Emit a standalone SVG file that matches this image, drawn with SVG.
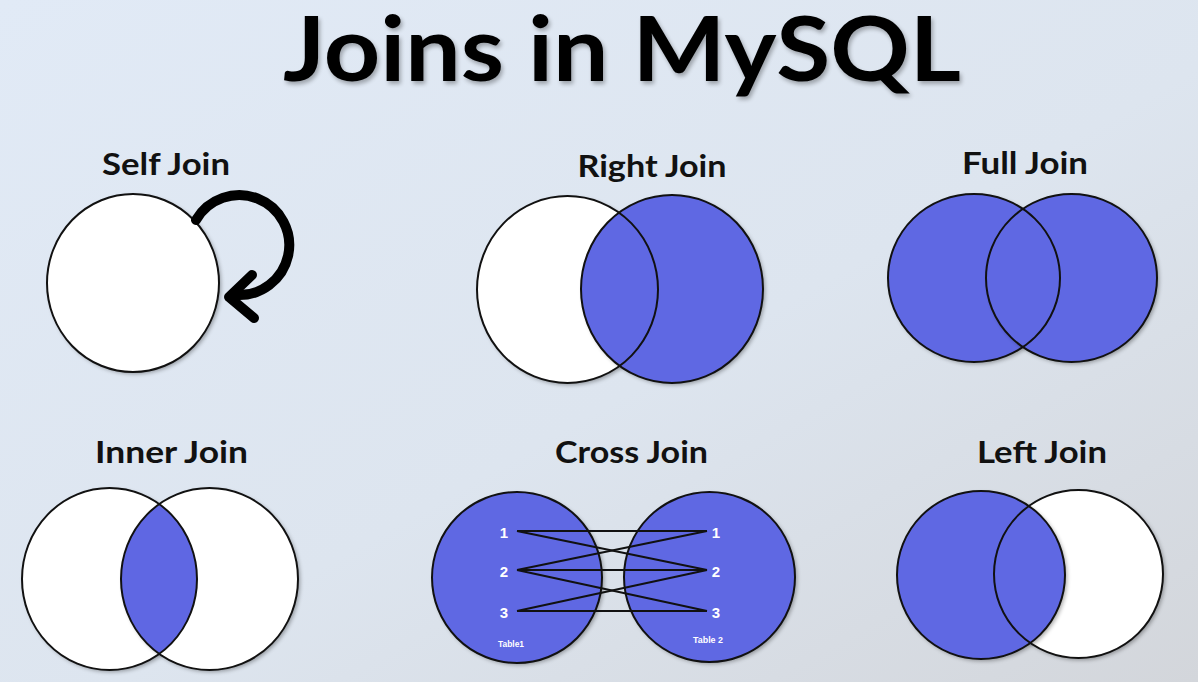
<svg xmlns="http://www.w3.org/2000/svg" width="1198" height="682" viewBox="0 0 1198 682">
  <defs>
    <linearGradient id="bg" x1="0" y1="0" x2="1" y2="1">
      <stop offset="0" stop-color="#e1eaf6"/>
      <stop offset="0.55" stop-color="#dde5ef"/>
      <stop offset="1" stop-color="#d3d6db"/>
    </linearGradient>
    <filter id="sh" x="-10%" y="-10%" width="125%" height="125%">
      <feGaussianBlur in="SourceAlpha" stdDeviation="2"/>
      <feOffset dx="2" dy="2" result="b"/>
      <feComponentTransfer><feFuncA type="linear" slope="0.35"/></feComponentTransfer>
      <feMerge><feMergeNode/><feMergeNode in="SourceGraphic"/></feMerge>
    </filter>
    <filter id="tsh" x="-5%" y="-10%" width="110%" height="130%">
      <feGaussianBlur in="SourceAlpha" stdDeviation="2"/>
      <feOffset dx="2" dy="3"/>
      <feComponentTransfer><feFuncA type="linear" slope="0.3"/></feComponentTransfer>
      <feMerge><feMergeNode/><feMergeNode in="SourceGraphic"/></feMerge>
    </filter>
    <clipPath id="innerClip"><ellipse cx="109.5" cy="579" rx="87.5" ry="91"/></clipPath>
  </defs>
  <style>
    .lbl { font-family: Lato, "Liberation Sans", sans-serif; font-weight: bold; font-size: 30px; fill: #111; text-anchor: middle; }
    .title { font-family: Lato, "Liberation Sans", sans-serif; font-weight: bold; font-size: 90px; fill: #000; text-anchor: middle; }
    .w { fill: #ffffff; }
    .b { fill: #5f67e3; }
    .ol { fill: none; stroke: #111; stroke-width: 2; }
    .num { font-family: "Liberation Sans", Arial, sans-serif; font-weight: bold; font-size: 15px; fill: #fff; text-anchor: middle; }
    .tbl { font-family: "Liberation Sans", Arial, sans-serif; font-weight: bold; font-size: 9px; fill: #fff; text-anchor: middle; }
    .xl { stroke: #111; stroke-width: 2; fill: none; }
    .arr { stroke: #000; stroke-width: 10; fill: none; stroke-linecap: round; stroke-linejoin: round; }
  </style>
  <rect width="1198" height="682" fill="url(#bg)"/>

  <g id="title">
    <text class="title" x="622" y="81" textLength="678" lengthAdjust="spacingAndGlyphs" filter="url(#tsh)">Joins in MySQL</text>
  </g>

  <g id="self-join">
    <text class="lbl" x="166" y="175" textLength="128" lengthAdjust="spacingAndGlyphs">Self Join</text>
    <ellipse class="w" cx="133" cy="283" rx="86" ry="89" filter="url(#sh)"/>
    <ellipse class="ol" cx="133" cy="283" rx="86" ry="89" stroke-width="1.5"/>
    <path class="arr" d="M196,220 A50,50 0 1 1 236,295"/>
    <polyline class="arr" points="252,275 229,297 254,318"/>
  </g>

  <g id="right-join">
    <text class="lbl" x="652" y="177" textLength="149" lengthAdjust="spacingAndGlyphs">Right Join</text>
    <ellipse class="w" cx="567.5" cy="289.5" rx="90.5" ry="93.5" filter="url(#sh)"/>
    <ellipse class="b" cx="672" cy="289" rx="91" ry="94" filter="url(#sh)"/>
    <ellipse class="ol" cx="567.5" cy="289.5" rx="90.5" ry="93.5"/>
    <ellipse class="ol" cx="672" cy="289" rx="91" ry="94"/>
  </g>

  <g id="full-join">
    <text class="lbl" x="1025" y="174" textLength="126" lengthAdjust="spacingAndGlyphs">Full Join</text>
    <ellipse class="b" cx="974" cy="278" rx="86" ry="84" filter="url(#sh)"/>
    <ellipse class="b" cx="1071.5" cy="278" rx="85.5" ry="84" filter="url(#sh)"/>
    <ellipse class="ol" cx="974" cy="278" rx="86" ry="84"/>
    <ellipse class="ol" cx="1071.5" cy="278" rx="85.5" ry="84"/>
  </g>

  <g id="inner-join">
    <text class="lbl" x="171.5" y="463" textLength="153" lengthAdjust="spacingAndGlyphs">Inner Join</text>
    <ellipse class="w" cx="109.5" cy="579" rx="87.5" ry="91" filter="url(#sh)"/>
    <ellipse class="w" cx="209.5" cy="579" rx="88.5" ry="91" filter="url(#sh)"/>
    <ellipse class="b" cx="209.5" cy="579" rx="88.5" ry="91" clip-path="url(#innerClip)"/>
    <ellipse class="ol" cx="109.5" cy="579" rx="87.5" ry="91"/>
    <ellipse class="ol" cx="209.5" cy="579" rx="88.5" ry="91"/>
  </g>

  <g id="cross-join">
    <text class="lbl" x="631.5" y="463" textLength="153" lengthAdjust="spacingAndGlyphs">Cross Join</text>
    <ellipse class="b" cx="517" cy="577.5" rx="85" ry="85.5" filter="url(#sh)"/>
    <ellipse class="b" cx="709.5" cy="577" rx="85.5" ry="85" filter="url(#sh)"/>
    <ellipse class="ol" cx="517" cy="577.5" rx="85" ry="85.5"/>
    <ellipse class="ol" cx="709.5" cy="577" rx="85.5" ry="85"/>
    <text class="num" x="504" y="538">1</text>
    <text class="num" x="504" y="577">2</text>
    <text class="num" x="504" y="618">3</text>
    <text class="num" x="716" y="538">1</text>
    <text class="num" x="716" y="577">2</text>
    <text class="num" x="716" y="618">3</text>
    <text class="tbl" x="511" y="647" textLength="26" lengthAdjust="spacingAndGlyphs">Table1</text>
    <text class="tbl" x="708" y="643" textLength="30" lengthAdjust="spacingAndGlyphs">Table 2</text>
  </g>

  <g id="left-join">
    <text class="lbl" x="1042" y="463" textLength="130" lengthAdjust="spacingAndGlyphs">Left Join</text>
    <ellipse class="w" cx="1078.5" cy="574" rx="84.5" ry="84" filter="url(#sh)"/>
    <ellipse class="b" cx="981" cy="575" rx="84" ry="84" filter="url(#sh)"/>
    <ellipse class="ol" cx="981" cy="575" rx="84" ry="84"/>
    <ellipse class="ol" cx="1078.5" cy="574" rx="84.5" ry="84"/>
  </g>

  <g id="connectors">
    <line class="xl" x1="517" y1="531" x2="707" y2="531"/>
    <line class="xl" x1="517" y1="531" x2="707" y2="570"/>
    <line class="xl" x1="517" y1="570" x2="707" y2="531"/>
    <line class="xl" x1="517" y1="570" x2="707" y2="570"/>
    <line class="xl" x1="517" y1="570" x2="707" y2="611"/>
    <line class="xl" x1="517" y1="611" x2="707" y2="570"/>
    <line class="xl" x1="517" y1="611" x2="707" y2="611"/>
  </g>
</svg>
